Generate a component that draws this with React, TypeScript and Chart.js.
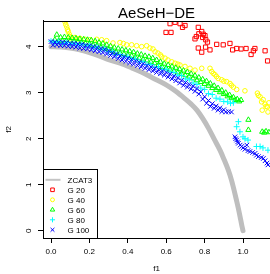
import React, { useEffect, useRef } from "react";
import { Chart, registerables } from "chart.js";

Chart.register(...registerables);

const FONT = "'Liberation Sans', Arial, Helvetica, sans-serif";

const TITLE = "AeSeH\u2212DE";
const X_LABEL = "f1";
const Y_LABEL = "f2";
const X_TICKS = [0, 0.2, 0.4, 0.6, 0.8, 1.0];
const Y_TICKS = [0, 1, 2, 3, 4];
const X_RANGE = [-0.0417, 1.1406];
const Y_RANGE = [-0.159, 4.559];

const SERIES_NAMES = ["ZCAT3", "G 20", "G 40", "G 60", "G 80", "G 100"];
const SERIES_COLORS = ["#bebebe", "#ff0000", "#ffff00", "#00ff00", "#00ffff", "#0000ff"];

// Reference Pareto front
const ZCAT3: number[][] = [
  [0, 4.0], [0.05, 3.99], [0.1, 3.97], [0.15, 3.93], [0.2, 3.87], [0.25, 3.8], [0.3, 3.72],
  [0.36, 3.64], [0.42, 3.54], [0.47, 3.45], [0.53, 3.32], [0.6, 3.17], [0.65, 3.03],
  [0.7, 2.86], [0.73, 2.75], [0.76, 2.62], [0.79, 2.44], [0.82, 2.23], [0.85, 1.99],
  [0.88, 1.75], [0.9, 1.56], [0.923, 1.32], [0.94, 1.1], [0.953, 0.89], [0.965, 0.68],
  [0.975, 0.5], [0.985, 0.3], [0.993, 0.13], [1.0, 0.0],
];

const G20: number[][] = [
  [0.599, 4.31], [0.625, 4.31], [0.62, 4.5], [0.646, 4.53], [0.672, 4.5], [0.685, 4.42],
  [0.698, 4.46], [0.75, 4.17], [0.757, 4.22], [0.767, 4.42], [0.77, 4.28], [0.785, 4.33],
  [0.793, 4.27], [0.79, 4.2], [0.802, 4.24], [0.806, 4.15], [0.815, 4.1], [0.828, 3.93],
  [0.767, 3.97], [0.785, 3.88], [0.805, 3.99], [0.863, 4.05], [0.897, 4.04], [0.932, 4.07],
  [0.946, 3.93], [0.967, 3.96], [0.99, 3.95], [1.016, 3.96], [1.042, 3.83], [1.054, 3.91],
  [1.062, 3.96], [1.115, 3.91], [1.128, 3.69],
];

const G40: number[][] = [
  [0.073, 4.54], [0.077, 4.48], [0.082, 4.43], [0.086, 4.37], [0.09, 4.33], [0.095, 4.27],
  [0.099, 4.22], [0.108, 4.16], [0.125, 4.2], [0.14, 4.17], [0.151, 4.18], [0.177, 4.16],
  [0.203, 4.15], [0.238, 4.16], [0.264, 4.15], [0.29, 4.13], [0.323, 4.08], [0.359, 4.09],
  [0.377, 4.07], [0.394, 4.04], [0.42, 4.04], [0.446, 4.02], [0.472, 4.0], [0.498, 4.02],
  [0.515, 3.97], [0.531, 3.95], [0.542, 3.89], [0.557, 3.86], [0.57, 3.82], [0.577, 3.78],
  [0.594, 3.75], [0.609, 3.71], [0.629, 3.67], [0.646, 3.64], [0.66, 3.62], [0.672, 3.6],
  [0.698, 3.57], [0.724, 3.53], [0.75, 3.49], [0.785, 3.53], [0.828, 3.53], [0.837, 3.46],
  [0.845, 3.42], [0.854, 3.39], [0.862, 3.35], [0.871, 3.31], [0.889, 3.28], [0.9, 3.25],
  [0.915, 3.24], [0.932, 3.2], [0.94, 3.16], [0.95, 3.12], [0.967, 3.07], [1.01, 3.04],
  [1.075, 2.99], [1.08, 2.94], [1.089, 2.91], [1.097, 2.8], [1.105, 2.85], [1.115, 2.75],
  [1.12, 2.7], [1.127, 2.69], [1.1, 2.62], [1.13, 2.58], [1.135, 2.78],
];

const G60: number[][] = [
  [0.02, 4.15], [0.03, 4.26], [0.04, 4.12], [0.05, 4.2], [0.06, 4.14], [0.07, 4.21],
  [0.08, 4.13], [0.09, 4.2], [0.1, 4.13], [0.11, 4.19], [0.12, 4.11], [0.13, 4.18],
  [0.14, 4.1], [0.15, 4.17], [0.16, 4.08], [0.17, 4.16], [0.18, 4.07], [0.19, 4.15],
  [0.2, 4.06], [0.21, 4.14], [0.22, 4.03], [0.23, 4.12], [0.24, 4.01], [0.25, 4.09],
  [0.26, 3.98], [0.27, 4.07], [0.28, 3.96], [0.29, 4.04], [0.3, 3.94], [0.31, 4.01],
  [0.32, 3.91], [0.33, 3.98], [0.34, 3.88], [0.35, 3.96], [0.36, 3.86], [0.37, 3.94],
  [0.38, 3.84], [0.39, 3.92], [0.4, 3.82], [0.41, 3.9], [0.42, 3.8], [0.43, 3.88],
  [0.44, 3.77], [0.45, 3.85], [0.46, 3.75], [0.47, 3.83], [0.48, 3.72], [0.49, 3.8],
  [0.5, 3.7], [0.51, 3.78], [0.52, 3.67], [0.53, 3.75], [0.54, 3.64], [0.55, 3.71],
  [0.56, 3.6], [0.57, 3.67], [0.58, 3.56], [0.59, 3.63], [0.6, 3.53], [0.61, 3.6],
  [0.62, 3.5], [0.63, 3.57], [0.64, 3.47], [0.65, 3.54], [0.66, 3.44], [0.67, 3.51],
  [0.68, 3.41], [0.69, 3.48], [0.7, 3.38], [0.71, 3.45], [0.72, 3.35], [0.73, 3.41],
  [0.74, 3.31], [0.75, 3.37], [0.76, 3.27], [0.77, 3.33], [0.78, 3.23], [0.79, 3.29],
  [0.8, 3.19], [0.81, 3.25], [0.82, 3.15], [0.83, 3.2], [0.84, 3.1], [0.85, 3.15],
  [0.86, 3.06], [0.87, 3.1], [0.88, 3.01], [0.89, 3.05], [0.9, 2.97], [0.91, 3.0],
  [0.92, 2.92], [0.93, 2.95], [0.94, 2.88], [0.95, 2.9], [0.96, 2.84], [0.97, 2.86],
  [0.98, 2.81], [0.99, 2.84],
  [1.028, 2.41], [1.028, 2.19], [1.1, 2.15], [1.11, 2.13], [1.12, 2.16], [1.135, 2.14],
];

const G80: number[][] = [
  [0.0, 4.12], [0.02, 4.09], [0.04, 4.11], [0.06, 4.07], [0.08, 4.09], [0.1, 4.05],
  [0.12, 4.07], [0.14, 4.04], [0.16, 4.05], [0.18, 4.01], [0.2, 4.03], [0.22, 3.98],
  [0.24, 3.99], [0.26, 3.94], [0.28, 3.95], [0.3, 3.89], [0.32, 3.89], [0.34, 3.83],
  [0.36, 3.83], [0.38, 3.78], [0.4, 3.78], [0.42, 3.73], [0.44, 3.73], [0.46, 3.67],
  [0.48, 3.67], [0.5, 3.61], [0.52, 3.61], [0.54, 3.55], [0.56, 3.56], [0.58, 3.5],
  [0.6, 3.51], [0.62, 3.45], [0.64, 3.44], [0.66, 3.38], [0.68, 3.37], [0.7, 3.3],
  [0.72, 3.28], [0.74, 3.21], [0.76, 3.18], [0.78, 3.1], [0.8, 3.07], [0.82, 2.98],
  [0.84, 2.96], [0.86, 2.88], [0.88, 2.86], [0.9, 2.81], [0.92, 2.8], [0.935, 2.77],
  [0.95, 2.78],
  [0.976, 2.37], [0.967, 2.26], [0.984, 2.15], [1.0, 2.04], [1.01, 2.0], [1.026, 1.97],
  [1.07, 1.83], [1.089, 1.83], [1.104, 1.8], [1.13, 1.75],
];

const G100: number[][] = [
  [0.0, 4.11], [0.01, 4.03], [0.02, 4.1], [0.03, 4.04], [0.04, 4.09], [0.05, 4.02],
  [0.06, 4.1], [0.07, 4.02], [0.08, 4.09], [0.09, 4.01], [0.1, 4.07], [0.11, 4.0],
  [0.12, 4.07], [0.13, 3.99], [0.14, 4.06], [0.15, 3.97], [0.16, 4.05], [0.17, 3.96],
  [0.18, 4.03], [0.19, 3.95], [0.2, 4.02], [0.21, 3.93], [0.22, 4.0], [0.23, 3.91],
  [0.24, 3.98], [0.25, 3.89], [0.26, 3.96], [0.27, 3.87], [0.28, 3.94], [0.29, 3.84],
  [0.3, 3.91], [0.31, 3.81], [0.32, 3.87], [0.33, 3.78], [0.34, 3.84], [0.35, 3.74],
  [0.36, 3.8], [0.37, 3.71], [0.38, 3.78], [0.39, 3.68], [0.4, 3.75], [0.41, 3.65],
  [0.42, 3.72], [0.43, 3.62], [0.44, 3.69], [0.45, 3.59], [0.46, 3.66], [0.47, 3.56],
  [0.48, 3.63], [0.49, 3.53], [0.5, 3.59], [0.51, 3.5], [0.52, 3.56], [0.53, 3.47],
  [0.54, 3.53], [0.55, 3.44], [0.56, 3.5], [0.57, 3.41], [0.58, 3.47], [0.59, 3.38],
  [0.6, 3.44], [0.61, 3.34], [0.62, 3.4], [0.63, 3.3], [0.64, 3.36], [0.65, 3.26],
  [0.66, 3.32], [0.67, 3.21], [0.68, 3.27], [0.69, 3.16], [0.7, 3.22], [0.71, 3.12],
  [0.72, 3.18], [0.73, 3.08], [0.74, 3.14], [0.75, 3.03], [0.76, 3.09], [0.77, 2.97],
  [0.78, 3.02], [0.79, 2.86], [0.8, 2.91], [0.81, 2.77], [0.82, 2.83], [0.83, 2.7],
  [0.84, 2.76], [0.85, 2.66], [0.86, 2.71], [0.87, 2.62], [0.88, 2.67], [0.89, 2.59],
  [0.9, 2.63], [0.91, 2.58], [0.925, 2.59], [0.94, 2.58],
  [0.958, 2.04], [0.962, 2.0], [0.967, 1.97], [0.972, 1.93], [0.976, 1.9], [0.985, 1.86],
  [0.993, 1.83], [1.0, 1.8], [1.01, 1.77], [1.02, 1.86], [1.026, 1.74], [1.036, 1.72],
  [1.05, 1.7], [1.0625, 1.68], [1.07, 1.64], [1.08, 1.61], [1.095, 1.59], [1.106, 1.57],
  [1.115, 1.52], [1.125, 1.47], [1.13, 1.43],
];

const POINT_STYLES = ["line", "rect", "circle", "triangle", "cross", "crossRot"];
const POINT_RADII = [0, 3, 2.3, 3, 3, 3.2];

const toPts = (a: number[][]) => a.map(([x, y]) => ({ x, y }));

function drawSymbol(ctx: CanvasRenderingContext2D, style: string, x: number, y: number, r: number) {
  ctx.beginPath();
  if (style === "rect") {
    const s = Math.SQRT1_2 * r;
    ctx.rect(x - s, y - s, 2 * s, 2 * s);
  } else if (style === "circle") {
    ctx.arc(x, y, r, 0, Math.PI * 2);
  } else if (style === "triangle") {
    for (let i = 0; i < 3; i++) {
      const a = (i * 2 * Math.PI) / 3;
      const px = x + Math.sin(a) * r;
      const py = y - Math.cos(a) * r;
      if (i === 0) ctx.moveTo(px, py);
      else ctx.lineTo(px, py);
    }
    ctx.closePath();
  } else if (style === "cross") {
    ctx.moveTo(x, y - r);
    ctx.lineTo(x, y + r);
    ctx.moveTo(x - r, y);
    ctx.lineTo(x + r, y);
  } else if (style === "crossRot") {
    const d = Math.SQRT1_2 * r;
    ctx.moveTo(x - d, y - d);
    ctx.lineTo(x + d, y + d);
    ctx.moveTo(x - d, y + d);
    ctx.lineTo(x + d, y - d);
  }
  ctx.stroke();
}

const boxAndLegend = {
  id: "boxAndLegend",
  afterDraw(chart: any) {
    const ctx: CanvasRenderingContext2D = chart.ctx;
    const ca = chart.chartArea;
    ctx.save();
    ctx.strokeStyle = "#000";
    ctx.lineWidth = 1;
    ctx.beginPath();
    const ty = Math.round(ca.top) + 0.5;
    ctx.moveTo(Math.round(ca.left), ty);
    ctx.lineTo(ca.right + 2, ty);
    ctx.stroke();

    const w = 54;
    const h = 69;
    const x0 = Math.round(ca.left) + 0.5;
    const y0 = Math.round(ca.bottom - h) + 0.5;
    ctx.fillStyle = "#fff";
    ctx.fillRect(x0, y0, w, h);
    ctx.strokeStyle = "#000";
    ctx.strokeRect(x0, y0, w, h);

    ctx.font = `8px ${FONT}`;
    ctx.textBaseline = "middle";
    ctx.textAlign = "left";
    for (let i = 0; i < SERIES_NAMES.length; i++) {
      const yc = y0 + 10.3 + i * 10;
      const sx = x0 + 9;
      ctx.strokeStyle = SERIES_COLORS[i];
      ctx.lineWidth = 1;
      if (POINT_STYLES[i] === "line") {
        ctx.lineWidth = 2;
        ctx.strokeStyle = "#c4c4c4";
        ctx.beginPath();
        ctx.moveTo(x0 + 2, yc);
        ctx.lineTo(x0 + 17, yc);
        ctx.stroke();
      } else {
        drawSymbol(ctx, POINT_STYLES[i], sx, yc, POINT_RADII[i] * 0.85);
      }
      ctx.fillStyle = "#000";
      ctx.fillText(SERIES_NAMES[i], x0 + 24, yc + 0.5);
    }
    ctx.restore();
  },
};

const zeroPad = (s: any) => {
  s.paddingLeft = 0;
  s.paddingRight = 0;
  s.paddingTop = 0;
  s.paddingBottom = 0;
};

export default function App() {
  const ref = useRef<HTMLCanvasElement>(null);

  useEffect(() => {
    document.body.style.margin = "0";
    document.body.style.overflow = "hidden";
    const seriesData = [ZCAT3, G20, G40, G60, G80, G100];
    const datasets: any[] = seriesData.map((d, i) => {
      if (i === 0) {
        return {
          label: SERIES_NAMES[i],
          data: toPts(d),
          showLine: true,
          borderColor: SERIES_COLORS[i],
          borderWidth: 5,
          borderCapStyle: "round",
          borderJoinStyle: "round",
          cubicInterpolationMode: "monotone",
          pointRadius: 0,
          fill: false,
          order: 6,
        };
      }
      return {
        label: SERIES_NAMES[i],
        data: toPts(d),
        showLine: false,
        pointStyle: POINT_STYLES[i],
        pointRadius: POINT_RADII[i],
        pointBorderWidth: 1,
        pointBorderColor: SERIES_COLORS[i],
        pointBackgroundColor: "rgba(0,0,0,0)",
        borderColor: SERIES_COLORS[i],
        backgroundColor: "rgba(0,0,0,0)",
        order: 6 - i,
      };
    });

    const chart = new Chart(ref.current!, {
      type: "scatter",
      data: { datasets },
      options: {
        responsive: false,
        animation: false,
        devicePixelRatio: 1,
        layout: { padding: 0, autoPadding: false },
        plugins: {
          legend: { display: false },
          tooltip: { enabled: false },
          title: {
            display: true,
            text: TITLE,
            fullSize: false,
            color: "#000",
            font: { size: 15, family: FONT, weight: "normal", lineHeight: 0.93 },
            padding: { top: 7, bottom: 0 },
          },
        },
        scales: {
          x: {
            type: "linear",
            min: X_RANGE[0],
            max: X_RANGE[1],
            afterBuildTicks: (s: any) => {
              s.ticks = X_TICKS.map((v) => ({ value: v }));
            },
            afterFit: (s: any) => {
              s.height = 36;
              zeroPad(s);
            },
            ticks: {
              callback: (v: any) => Number(v).toFixed(1),
              font: { size: 8, family: FONT },
              color: "#000",
              padding: 4,
              maxRotation: 0,
              minRotation: 0,
              autoSkip: false,
            },
            grid: {
              display: true,
              drawOnChartArea: false,
              drawTicks: true,
              tickLength: 5,
              color: "#000",
            },
            border: { display: true, color: "#000", width: 1 },
            title: {
              display: true,
              text: X_LABEL,
              color: "#000",
              font: { size: 8, family: FONT },
              padding: { top: 8, bottom: 0 },
            },
          },
          y: {
            type: "linear",
            min: Y_RANGE[0],
            max: Y_RANGE[1],
            afterBuildTicks: (s: any) => {
              s.ticks = Y_TICKS.map((v) => ({ value: v }));
            },
            afterFit: (s: any) => {
              s.width = 43;
              zeroPad(s);
            },
            ticks: {
              callback: (v: any) => String(v),
              font: { size: 8, family: FONT },
              color: "#000",
              padding: 6.8,
              minRotation: 90,
              maxRotation: 90,
              crossAlign: "center",
              autoSkip: false,
            },
            grid: {
              display: true,
              drawOnChartArea: false,
              drawTicks: true,
              tickLength: 5,
              color: "#000",
            },
            border: { display: true, color: "#000", width: 1 },
            title: {
              display: true,
              text: Y_LABEL,
              color: "#000",
              font: { size: 8, family: FONT },
              padding: { top: 3.5, bottom: 8.5 },
            },
          },
        },
      },
      plugins: [boxAndLegend],
    } as any);
    return () => chart.destroy();
  }, []);

  return (
    <div style={{ position: "absolute", left: 0, top: 0, width: 270, height: 274 }}>
      <canvas ref={ref} width={270} height={274} style={{ display: "block", width: 270, height: 274 }} />
    </div>
  );
}
